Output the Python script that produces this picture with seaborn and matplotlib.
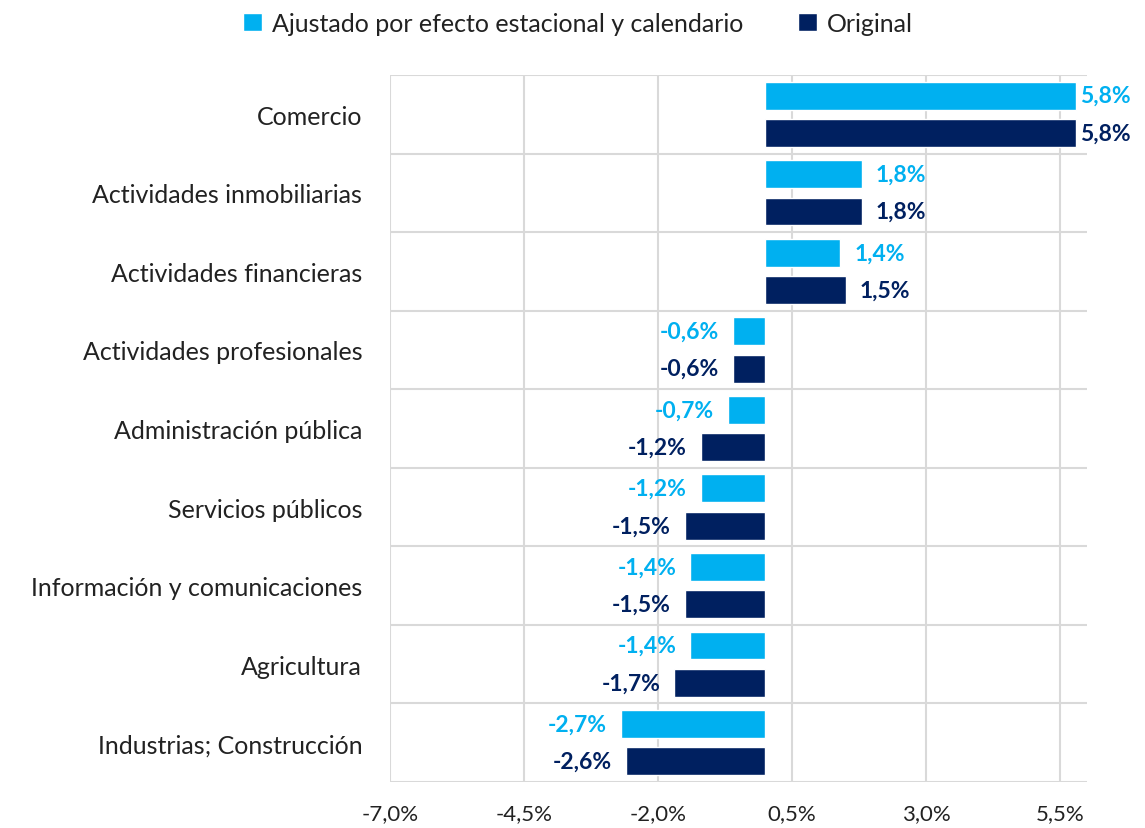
import pandas as pd
import numpy as np
import matplotlib
matplotlib.use('Agg')
import matplotlib.pyplot as plt
import seaborn as sns

# datos
sectores = ['Comercio', 'Actividades inmobiliarias', 'Actividades financieras',
            'Actividades profesionales', 'Administración pública', 'Servicios públicos',
            'Información y comunicaciones', 'Agricultura', 'Industrias; Construcción']
ajustado = [5.8, 1.8, 1.4, -0.6, -0.7, -1.2, -1.4, -1.4, -2.7]
original = [5.8, 1.8, 1.5, -0.6, -1.2, -1.5, -1.5, -1.7, -2.6]
series = ['Ajustado por efecto estacional y calendario', 'Original']
xticks = [-7.0, -4.5, -2.0, 0.5, 3.0, 5.5]

azul_claro = '#00B0F0'
azul_oscuro = '#002060'

df = pd.DataFrame({'Sector': sectores * 2,
                   'Serie': [series[0]] * len(sectores) + [series[1]] * len(sectores),
                   'Valor': ajustado + original})

def pct(v):
    return ('%.1f%%' % v).replace('.', ',')

sns.set_style('white')
plt.rcParams['font.family'] = ['Lato', 'DejaVu Sans']

fig = plt.figure(figsize=(11.45, 8.29), dpi=100)
ax = fig.add_axes([0.3406, 0.0555, 0.6087, 0.8528])

sns.barplot(data=df, y='Sector', x='Valor', hue='Serie', orient='h',
            palette=[azul_claro, azul_oscuro], width=0.95, gap=0.25,
            saturation=1, ax=ax)

# etiquetas de valor (la de Comercio va pegada a la barra, como en el original)
for cont, col in zip(ax.containers, [azul_claro, azul_oscuro]):
    for bar, v in zip(cont, cont.datavalues):
        yc = bar.get_y() + bar.get_height() / 2
        pad = 3 if v > 5 else 10
        ax.annotate(pct(v), (v, yc), xytext=(pad if v >= 0 else -pad, 0),
                    textcoords='offset points', ha='left' if v >= 0 else 'right',
                    va='center', color=col, fontsize=16.5, fontweight='bold')

ax.set_xlim(-7.0, 6.0)
ax.set_xticks(xticks)
ax.set_xticklabels([pct(t) for t in xticks], fontsize=16, color='#222222')
ax.set_yticks(np.arange(len(sectores)), minor=False)
ax.set_yticklabels(sectores, fontsize=18, color='#222222')
ax.set_yticks(np.arange(-0.5, len(sectores), 1.0), minor=True)
ax.set_ylim(len(sectores) - 0.5, -0.5)
ax.set_xlabel('')
ax.set_ylabel('')

ax.grid(axis='x', which='major', color='#d9d9d9', linewidth=1.5)
ax.grid(axis='y', which='minor', color='#d9d9d9', linewidth=1.5)
ax.set_axisbelow(True)
ax.tick_params(axis='both', which='both', length=0)
ax.tick_params(axis='y', pad=20)
ax.tick_params(axis='x', pad=15)
for s in ax.spines.values():
    s.set_visible(False)

h, l = ax.get_legend_handles_labels()
ax.get_legend().remove()
fig.legend(h, l, loc='upper center', bbox_to_anchor=(0.505, 1.012), ncol=2,
           frameon=False, fontsize=18, handlelength=0.75, handleheight=0.75,
           handletextpad=0.4, columnspacing=2.2, labelcolor='#222222')

fig.savefig('out.png', dpi=100)
